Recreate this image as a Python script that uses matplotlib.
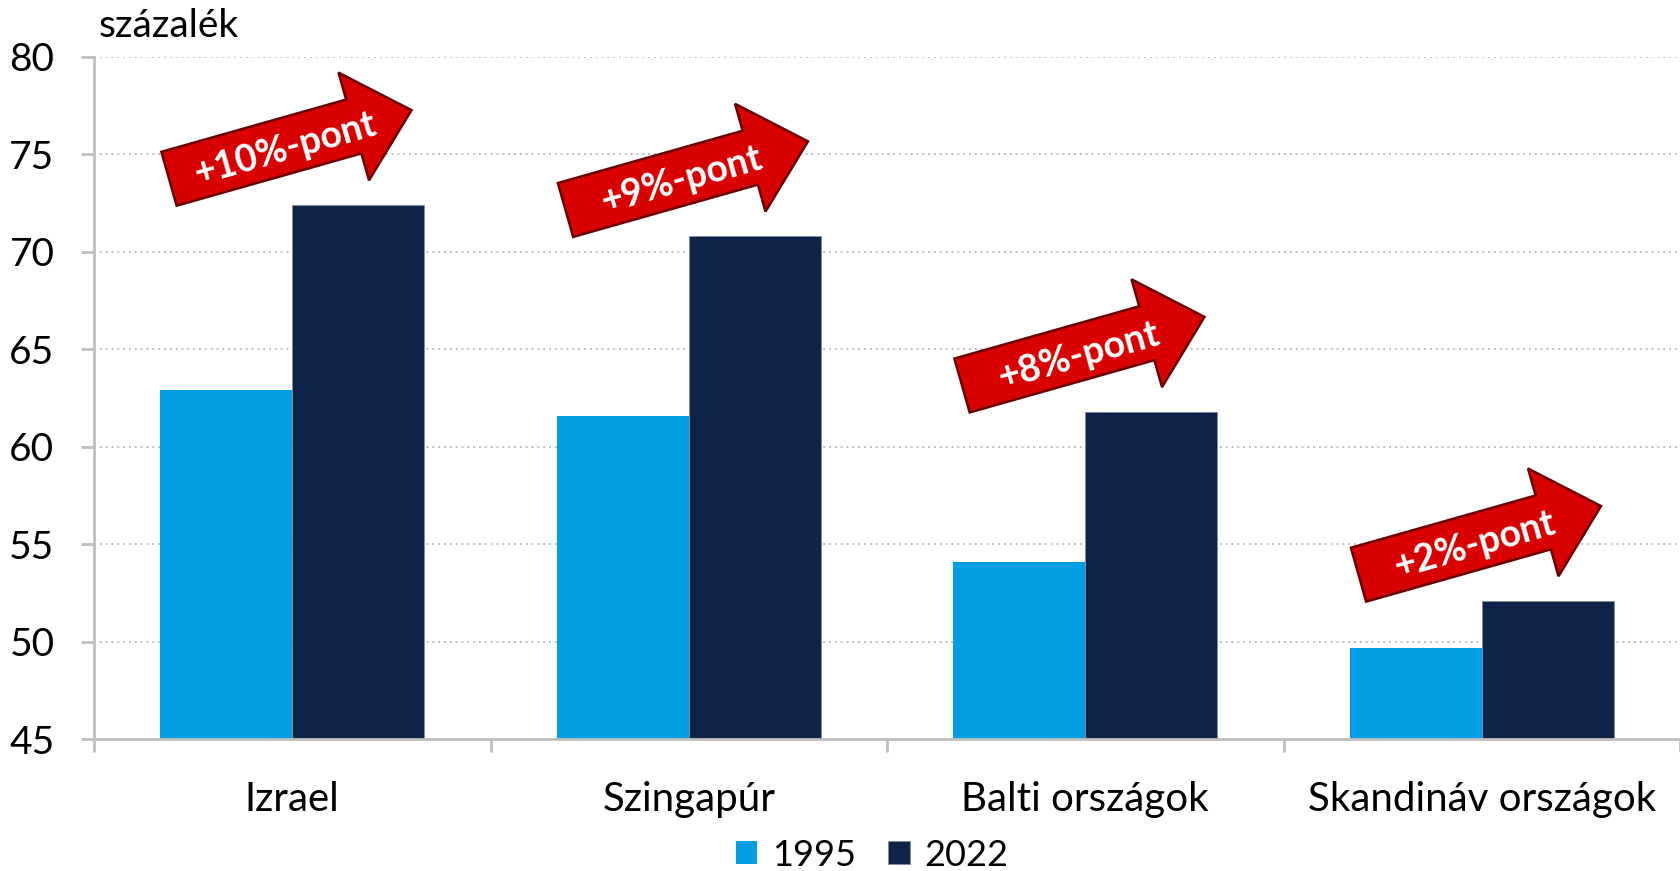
import numpy as np
import matplotlib
matplotlib.use('Agg')
import matplotlib.pyplot as plt
from matplotlib.patches import Polygon
from matplotlib.transforms import IdentityTransform

plt.rcParams['font.family'] = ['Lato', 'DejaVu Sans']

# data
categories = ['Izrael', 'Szingapúr', 'Balti országok', 'Skandináv országok']
values_1995 = [62.9, 61.6, 54.1, 49.7]
values_2022 = [72.4, 70.8, 61.8, 52.1]
arrow_labels = ['+10%-pont', '+9%-pont', '+8%-pont', '+2%-pont']
series_names = ['1995', '2022']

col_1995 = '#009FE3'
col_2022 = '#0F2248'
grid_col = '#BFBFBF'
arrow_fill = '#D90000'
arrow_edge = '#6B0000'

dpi = 100
fig = plt.figure(figsize=(16.8, 8.71), dpi=dpi)
ax = fig.add_axes([94 / 1680, 1 - 739.3 / 871, 1 - 94 / 1680, (739.3 - 56.7) / 871])

x = np.arange(len(categories))
w = 1 / 3
ax.bar(x - w / 2, values_1995, width=w, color=col_1995, label=series_names[0], zorder=2)
ax.bar(x + w / 2, values_2022, width=w, color=col_2022, label=series_names[1],
       edgecolor='#7f8ca6', linewidth=0.6, zorder=2)

ax.set_xlim(-0.5, len(categories) - 0.5)
ax.set_ylim(45, 80)
ax.set_yticks(np.arange(45, 81, 5))
ax.yaxis.grid(True, linestyle=(0, (1, 2)), color=grid_col, linewidth=1.4, zorder=0)
ax.set_axisbelow(True)

for s in ['top', 'right']:
    ax.spines[s].set_visible(False)
for s in ['left', 'bottom']:
    ax.spines[s].set_color(grid_col)
    ax.spines[s].set_linewidth(2)

ax.set_xticks(x)
ax.set_xticklabels(categories, fontsize=29)
ax.set_xticks(np.arange(-0.5, len(categories)), minor=True)
ax.tick_params(axis='x', which='major', length=0, pad=30)
ax.tick_params(axis='x', which='minor', length=9, width=2, color=grid_col)
ax.tick_params(axis='y', length=9.5, width=2, color=grid_col, labelsize=28, pad=19)

fig.text(99 / 1680, 1 - 26 / 871, 'százalék', fontsize=28, va='center', ha='left')

# arrows drawn in pixel space, anchored above the 2022 bars
L, sh, hh, hl = 252, 28, 56, 60
base = np.array([[-L / 2, -sh], [L / 2 - hl, -sh], [L / 2 - hl, -hh], [L / 2, 0],
                 [L / 2 - hl, hh], [L / 2 - hl, sh], [-L / 2, sh]])
ang = np.deg2rad(15.8)
rot = np.array([[np.cos(ang), -np.sin(ang)], [np.sin(ang), np.cos(ang)]])
for i, lab in enumerate(arrow_labels):
    cx, cy = ax.transData.transform((x[i] - 0.005, values_2022[i] + 3.1))
    pts = base @ rot.T + [cx, cy]
    ax.add_patch(Polygon(pts, closed=True, facecolor=arrow_fill, edgecolor=arrow_edge,
                         linewidth=1.8, transform=IdentityTransform(), zorder=5,
                         clip_on=False))
    tx, ty = np.array([-6, -3]) @ rot.T + [cx, cy]
    ax.text(tx, ty, lab, transform=IdentityTransform(), rotation=15.8,
            rotation_mode='anchor', ha='center', va='center', color='white',
            fontsize=27, fontweight='bold', zorder=6)

fig.legend(loc='center', bbox_to_anchor=(872 / 1680, 1 - 855 / 871), ncol=2,
           frameon=False, fontsize=26, handlelength=0.6, handleheight=0.6,
           handletextpad=0.4, columnspacing=0.9)

fig.savefig('out.png', dpi=dpi)
